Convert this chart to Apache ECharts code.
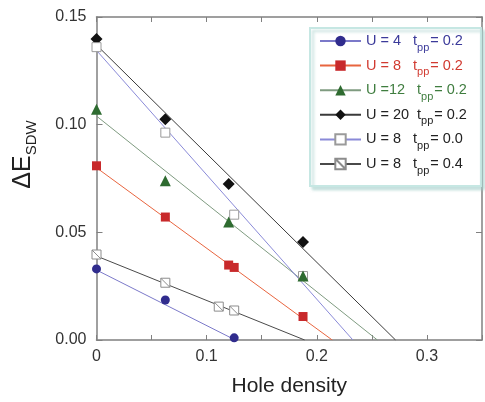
<!DOCTYPE html>
<html>
<head>
<meta charset="utf-8">
<script src="https://cdn.jsdelivr.net/npm/echarts@6/dist/echarts.min.js"></script>
<style>
  html, body { margin: 0; padding: 0; background: #fff; }
  #chart { width: 485px; height: 402px; }
</style>
</head>
<body>
<div id="chart"></div>
<script>
// SDW gap versus hole density for several (U, t_pp) parameter sets
const uLabels   = ['U = 4', 'U = 8', 'U =12', 'U = 20', 'U = 8', 'U = 8'];
const tppLabels = ['0.2', '0.2', '0.2', '0.2', '0.0', '0.4'];

const holeU4  = [0, 0.0625, 0.125];
const gapU4   = [0.033, 0.0186, 0.001];
const holeU8  = [0, 0.0625, 0.12, 0.125, 0.1875];
const gapU8   = [0.0809, 0.0571, 0.0348, 0.0337, 0.0109];
const holeU12 = [0, 0.0625, 0.12, 0.1875];
const gapU12  = [0.1072, 0.0740, 0.0548, 0.0297];
const holeU20 = [0, 0.0625, 0.12, 0.1875];
const gapU20  = [0.1398, 0.1025, 0.0725, 0.0455];
const holeT00 = [0, 0.0625, 0.125, 0.1875];
const gapT00  = [0.1360, 0.0963, 0.0582, 0.0297];
const holeT04 = [0, 0.0625, 0.111, 0.125];
const gapT04  = [0.0397, 0.0266, 0.0155, 0.0137];

// Linear fits: gap at zero doping and the doping at which the gap closes
const fitGap0  = [0.0325, 0.0800, 0.1040, 0.1370, 0.1345, 0.0390];
const fitClose = [0.126, 0.214, 0.255, 0.2715, 0.2328, 0.189];

const xTicks = [0, 0.1, 0.2, 0.3];

// ---- styling ----
const holes = [holeU4, holeU8, holeU12, holeU20, holeT00, holeT04];
const gaps  = [gapU4, gapU8, gapU12, gapU20, gapT00, gapT04];
const keys  = ['u4', 'u8', 'u12', 'u20', 't00', 't04'];
const lineColors  = ['#7b79c9', '#e8653f', '#7f9b80', '#3a3a3a', '#8a8ad8', '#4a4a4a'];
const fillColors  = ['#302c8d', '#c8292b', '#2e6b30', '#111111', '#ffffff', '#ffffff'];
const borderColors = ['#302c8d', '#c8292b', '#2e6b30', '#111111', '#9a9a9a', '#8c8c8c'];
const borderWidths = [0, 0, 0, 0, 1, 1];
const symbols = ['circle', 'rect', 'triangle', 'diamond', 'rect',
                 'path://M0,0H10V10H0Z M0,0L10,10'];
const symbolSizes = [9, 9, 11, 12, 9, 9];
const textColors = ['#3b3a9a', '#d13a30', '#3f7d3f', '#222222', '#222222', '#222222'];
const font = 'Liberation Sans, Arial, Helvetica, sans-serif';

const series = [];
keys.forEach((k, i) => {
  series.push({
    name: k,
    type: 'line',
    data: [[0, fitGap0[i]], [fitClose[i], 0]],
    symbol: symbols[i],
    showSymbol: false,
    lineStyle: { color: lineColors[i], width: 1 },
    itemStyle: { color: fillColors[i], borderColor: borderColors[i], borderWidth: borderWidths[i] },
    silent: true,
    z: 2
  });
});
keys.forEach((k, i) => {
  series.push({
    name: k + '-pts',
    type: 'scatter',
    data: holes[i].map((h, j) => [h, gaps[i][j]]),
    symbol: symbols[i],
    symbolSize: symbolSizes[i],
    itemStyle: { color: fillColors[i], borderColor: borderColors[i], borderWidth: borderWidths[i], opacity: 1 },
    silent: true,
    z: 3 + (i === 2 ? 1 : 0)
  });
});

// legend rich text: "U = x  t_pp = y"
const rich = {};
keys.forEach((k, i) => {
  const c = textColors[i];
  rich['a' + i] = { fontSize: 14.5, fontFamily: font, color: c, width: (i === 2 || i === 3) ? 51 : 47, lineHeight: 16 };
  rich['t' + i] = { fontSize: 14.5, fontFamily: font, color: c, lineHeight: 16 };
  rich['s' + i] = { fontSize: 11, fontFamily: font, color: c, lineHeight: 13, padding: [13, 1, 0, 0] };
  rich['v' + i] = { fontSize: 14.5, fontFamily: font, color: c, lineHeight: 16 };
});

const chart = echarts.init(document.getElementById('chart'), null, { renderer: 'canvas' });
chart.setOption({
  animation: false,
  backgroundColor: '#ffffff',
  grid: { left: 93, right: -6, top: 17, bottom: 60, containLabel: false },
  legend: {
    orient: 'vertical',
    left: 310,
    top: 28,
    data: keys,
    itemWidth: 41,
    itemHeight: 13,
    itemGap: 0.6,
    padding: [1, 14, 10, 9],
    backgroundColor: '#ffffff',
    borderColor: '#c6e7e3',
    borderWidth: 2,
    shadowColor: 'rgba(160,205,200,0.6)',
    shadowBlur: 3,
    shadowOffsetX: 3,
    shadowOffsetY: 3,
    selectedMode: false,
    formatter: function (name) {
      const i = keys.indexOf(name);
      return '{a' + i + '|' + uLabels[i] + '}{t' + i + '|t}{s' + i + '|pp}{v' + i + '|= ' + tppLabels[i] + '}';
    },
    textStyle: { fontFamily: font, fontSize: 14.5, rich: rich }
  },
  xAxis: [{
    type: 'value',
    min: 0, max: 0.35, interval: 0.05,
    name: 'Hole density',
    nameLocation: 'middle',
    nameGap: 36,
    nameTextStyle: { fontFamily: font, fontSize: 21, color: '#222' },
    axisLine: { show: true, onZero: false, lineStyle: { color: '#808080', width: 1.5 } },
    axisTick: { show: true, inside: true, length: 5, lineStyle: { color: '#808080', width: 1 } },
    axisLabel: {
      fontFamily: font, fontSize: 16, color: '#333', margin: 9,
      formatter: function (v) {
        const hit = xTicks.find(t => Math.abs(t - v) < 1e-9);
        if (hit === undefined) return '';
        return hit === 0 ? '0' : hit.toFixed(1);
      }
    },
    splitLine: { show: false }
  }, {
    type: 'value',
    position: 'top',
    min: 0, max: 0.35, interval: 0.05,
    axisLine: { show: true, onZero: false, lineStyle: { color: '#808080', width: 1.5 } },
    axisTick: { show: true, inside: true, length: 5, lineStyle: { color: '#808080', width: 1 } },
    axisLabel: { show: false },
    splitLine: { show: false }
  }],
  yAxis: [{
    type: 'value',
    min: 0, max: 0.15, interval: 0.05,
    name: '{a|ΔE}{b|SDW}',
    nameLocation: 'middle',
    nameRotate: 90,
    nameGap: 60,
    nameTextStyle: {
      fontFamily: font, color: '#222', padding: [0, 0, 0, 48],
      rich: {
        a: { fontFamily: font, fontSize: 25, color: '#222', lineHeight: 26 },
        b: { fontFamily: font, fontSize: 15, color: '#222', lineHeight: 16, padding: [16, 0, 0, 0] }
      }
    },
    axisLine: { show: true, onZero: false, lineStyle: { color: '#808080', width: 1.5 } },
    axisTick: { show: true, inside: true, length: 6, lineStyle: { color: '#808080', width: 1 } },
    axisLabel: {
      fontFamily: font, fontSize: 16, color: '#333', margin: 10,
      formatter: v => v.toFixed(2)
    },
    splitLine: { show: false }
  }, {
    type: 'value',
    position: 'right',
    min: 0, max: 0.15, interval: 0.05,
    axisLine: { show: true, onZero: false, lineStyle: { color: '#808080', width: 1.5 } },
    axisTick: { show: true, inside: true, length: 6, lineStyle: { color: '#808080', width: 1 } },
    axisLabel: { show: false },
    splitLine: { show: false }
  }],
  series: series
});
</script>
</body>
</html>
